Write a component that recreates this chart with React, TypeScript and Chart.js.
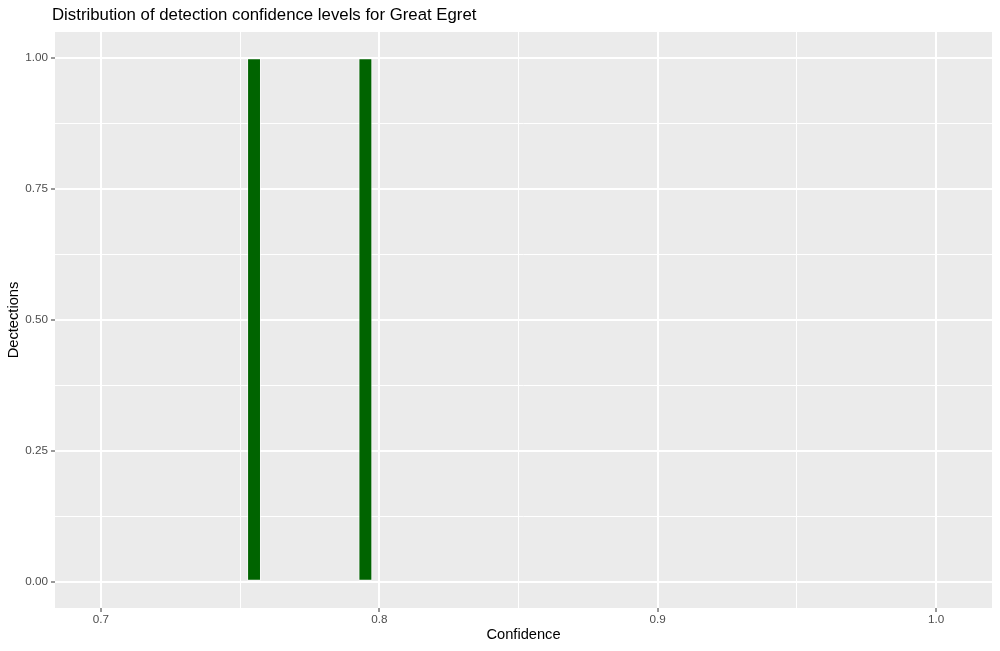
import React, { useEffect, useRef } from "react";
import { Chart, registerables } from "chart.js";

Chart.register(...registerables);

// ---- data ----
const binCenters: number[] = [0.755, 0.795];
const counts: number[] = [1, 1];
const binWidth = 0.005;
const xMajorTicks: number[] = [0.7, 0.8, 0.9, 1.0];
const yMajorTicks: number[] = [0, 0.25, 0.5, 0.75, 1.0];
const titleText = "Distribution of detection confidence levels for Great Egret";
const xTitle = "Confidence";
const yTitle = "Dectections";

const FONT = "'Liberation Sans', Arial, Helvetica, sans-serif";

const isMajor = (v: number, majors: number[]) => majors.some((m) => Math.abs(m - v) < 1e-6);

const panelBg = {
  id: "panelBg",
  beforeDraw(chart: any) {
    const { ctx, chartArea } = chart;
    ctx.save();
    ctx.fillStyle = "#EBEBEB";
    ctx.fillRect(chartArea.left, chartArea.top, chartArea.right - chartArea.left, chartArea.bottom - chartArea.top);
    ctx.restore();
  },
  afterLayout(chart: any) {
    const t = chart.titleBlock;
    if (t) {
      t.left = chart.chartArea.left - 3;
    }
  },
};

export default function App() {
  const ref = useRef<HTMLCanvasElement | null>(null);

  useEffect(() => {
    if (!ref.current) return;
    const minGap = Math.min(...binCenters.slice(1).map((v, i) => v - binCenters[i]));
    const chart = new Chart(ref.current, {
      type: "bar",
      data: {
        datasets: [
          {
            data: binCenters.map((x, i) => ({ x, y: counts[i] })),
            backgroundColor: "#006400",
            borderColor: "rgba(255,255,255,0.6)",
            borderWidth: 1,
            borderSkipped: false,
            barPercentage: 1,
            categoryPercentage: binWidth / minGap,
          },
        ],
      },
      plugins: [panelBg],
      options: {
        animation: false,
        responsive: false,
        devicePixelRatio: 1,
        layout: { padding: { left: 0, right: 8, top: 0, bottom: 0 } },
        plugins: {
          legend: { display: false },
          tooltip: { enabled: false },
          title: {
            display: true,
            text: titleText,
            align: "start",
            fullSize: false,
            color: "#000000",
            font: { family: FONT, size: 16.8, weight: "normal", lineHeight: 1.2 },
            padding: { top: 5, bottom: 32 - 5 - 16.8 * 1.2 },
          },
        },
        scales: {
          x: {
            type: "linear",
            min: 0.6835,
            max: 1.0201,
            offset: false,
            afterFit: (s: any) => {
              s.height = 43;
            },
            ticks: {
              stepSize: 0.05,
              includeBounds: false,
              autoSkip: false,
              maxRotation: 0,
              padding: 1,
              color: "#4D4D4D",
              font: { family: FONT, size: 11.7 },
              callback: (v: any) => (isMajor(Number(v), xMajorTicks) ? Number(v).toFixed(1) : ""),
            },
            grid: {
              offset: false,
              color: "#FFFFFF",
              lineWidth: (c: any) => (isMajor(c.tick?.value, xMajorTicks) ? 2 : 1),
              tickColor: (c: any) => (isMajor(c.tick?.value, xMajorTicks) ? "#333333" : "rgba(0,0,0,0)"),
              tickWidth: 1,
              tickLength: 4,
              drawTicks: true,
            },
            border: { display: false },
            title: {
              display: true,
              text: xTitle,
              color: "#000000",
              font: { family: FONT, size: 14.67, lineHeight: 1.2 },
              padding: { top: 0, bottom: 7 },
            },
          },
          y: {
            type: "linear",
            min: -0.05,
            max: 1.05,
            afterFit: (s: any) => {
              s.width = 55;
            },
            ticks: {
              stepSize: 0.125,
              includeBounds: false,
              autoSkip: false,
              padding: 3,
              color: "#4D4D4D",
              font: { family: FONT, size: 11.7 },
              callback: (v: any) => (isMajor(Number(v), yMajorTicks) ? Number(v).toFixed(2) : ""),
            },
            grid: {
              color: "#FFFFFF",
              lineWidth: (c: any) => (isMajor(c.tick?.value, yMajorTicks) ? 2 : 1),
              tickColor: (c: any) => (isMajor(c.tick?.value, yMajorTicks) ? "#333333" : "rgba(0,0,0,0)"),
              tickWidth: 1,
              tickLength: 4,
              drawTicks: true,
            },
            border: { display: false },
            title: {
              display: true,
              text: yTitle,
              color: "#000000",
              font: { family: FONT, size: 14.67, lineHeight: 1.2 },
              padding: { top: 5, bottom: 0 },
            },
          },
        },
      },
    } as any);
    return () => chart.destroy();
  }, []);

  return (
    <div style={{ position: "absolute", left: 0, top: 0, width: 1000, height: 651, background: "#FFFFFF" }}>
      <canvas ref={ref} width={1000} height={651} style={{ display: "block", width: 1000, height: 651 }} />
    </div>
  );
}
